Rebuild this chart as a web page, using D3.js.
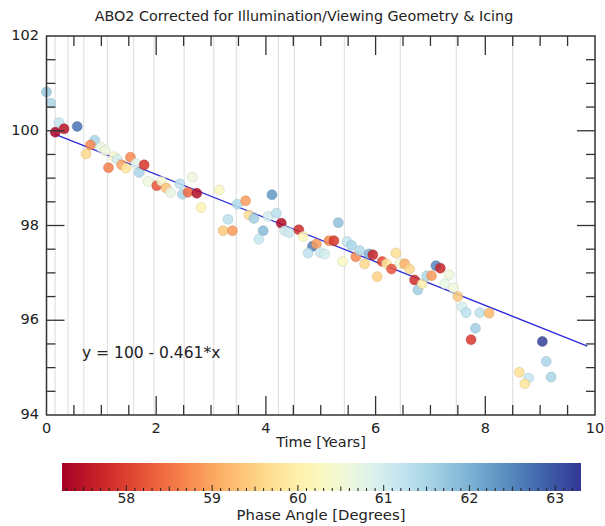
<!DOCTYPE html>
<html><head><meta charset="utf-8">
<script src="https://cdn.jsdelivr.net/npm/d3@7"></script>
<style>
html,body{margin:0;padding:0;background:#fff;}
svg{display:block;font-family:"DejaVu Sans",Verdana,sans-serif;}
</style></head>
<body><svg id="c" width="605" height="526"></svg>
<script>
const chartTitle = "ABO2 Corrected for Illumination/Viewing Geometry & Icing";
const xLabel = "Time [Years]";
const cbLabel = "Phase Angle [Degrees]";
const equation = "y = 100 - 0.461*x";
const fitIntercept = 100, fitSlope = -0.461, fitRange = [0.15, 9.86];
const xTicks = [0,2,4,6,8,10];
const yTicks = [94,96,98,100,102];
const cbTicks = [58,59,60,61,62,63];
const cbDomain = [57.25, 63.3];
const gridYears = [0.157,0.39,0.68,1.11,1.59,1.96,2.51,3.05,3.46,4.23,4.52,5.43,6.45,7.47,8.50];
const timeYears = [0.00,0.08,0.23,0.16,0.32,0.56,0.88,0.80,0.72,0.99,1.07,1.23,1.29,1.13,1.37,1.45,1.53,1.63,1.69,1.78,1.85,2.01,2.10,2.18,2.26,2.43,2.48,2.58,2.66,2.74,2.82,3.15,3.31,3.22,3.39,3.48,3.63,3.69,3.78,3.95,3.87,4.04,4.19,4.11,4.28,4.34,4.42,4.60,4.68,4.85,4.92,4.77,4.99,5.07,5.15,5.24,5.32,5.40,5.48,5.56,5.64,5.71,5.80,5.88,5.95,6.03,6.12,6.20,6.29,6.37,6.45,6.53,6.62,6.71,6.77,6.85,6.93,7.02,7.10,7.18,7.26,7.34,7.42,7.50,7.58,7.65,7.82,7.74,7.90,8.07,8.62,8.79,8.72,9.04,9.11,9.20];
const signal = [100.82,100.58,100.17,99.97,100.04,100.09,99.80,99.70,99.51,99.65,99.58,99.45,99.40,99.22,99.28,99.21,99.44,99.31,99.12,99.28,98.93,98.84,98.93,98.79,98.70,98.88,98.66,98.70,99.02,98.68,98.38,98.75,98.13,97.89,97.89,98.45,98.52,98.22,98.15,97.89,97.71,98.19,98.26,98.65,98.05,97.89,97.85,97.91,97.77,97.56,97.61,97.42,97.43,97.40,97.68,97.68,98.06,97.24,97.66,97.58,97.34,97.47,97.19,97.40,97.38,96.92,97.24,97.19,97.08,97.42,97.20,97.19,97.08,96.85,96.64,96.77,96.94,96.94,97.15,97.10,96.77,96.96,96.68,96.50,96.28,96.16,95.83,95.59,96.16,96.15,94.90,94.78,94.66,95.55,95.13,94.80];
const phaseAngle = [61.7,61.5,61.2,57.3,57.5,62.7,61.5,58.7,59.6,60.7,60.6,60.4,61.0,58.6,59.0,59.8,58.7,60.8,61.5,57.9,60.6,58.2,60.5,59.3,60.7,61.3,61.5,58.4,60.6,57.4,60.1,60.3,61.3,59.4,58.9,61.4,58.9,59.7,61.6,61.9,61.2,61.0,61.3,62.3,57.4,61.1,61.1,57.8,60.2,62.6,58.9,61.3,61.1,61.0,58.7,57.9,61.8,60.3,61.2,61.5,58.7,61.4,59.6,62.0,57.7,59.5,58.1,59.9,58.2,59.7,60.5,59.1,59.6,57.8,61.6,60.0,61.4,58.9,62.5,57.7,60.7,60.6,60.6,59.4,61.0,61.3,61.6,57.9,61.3,59.2,59.7,61.2,59.8,63.2,61.5,61.5];

const svg = d3.select("#c");
const L = 46.5, R = 595, T = 36, B = 415;
const x = d3.scaleLinear().domain([0,10]).range([L,R]);
const y = d3.scaleLinear().domain([94,102]).range([B,T]);
const col = d3.scaleSequential(d3.interpolateRdYlBu).domain(cbDomain);
const axisCol = "#333";

// title
svg.append("text").attr("x",304).attr("y",21).attr("text-anchor","middle")
  .attr("font-size",14.3).attr("fill","#222").text(chartTitle);

// grid lines
svg.append("g").selectAll("line").data(gridYears).join("line")
  .attr("x1",d=>x(d)).attr("x2",d=>x(d)).attr("y1",T).attr("y2",B)
  .attr("stroke","#dcdcdc").attr("stroke-width",1);

// fit line
svg.append("line")
  .attr("x1",x(fitRange[0])).attr("y1",y(fitIntercept+fitSlope*fitRange[0]))
  .attr("x2",x(fitRange[1])).attr("y2",y(fitIntercept+fitSlope*fitRange[1]))
  .attr("stroke","#2b2bd6").attr("stroke-width",1.3);

// points
const pts = timeYears.map((t,i)=>({t, v:signal[i], p:phaseAngle[i]}));
svg.append("g").selectAll("circle").data(pts).join("circle")
  .attr("cx",d=>x(d.t)).attr("cy",d=>y(d.v)).attr("r",5)
  .attr("fill",d=>col(d.p)).attr("fill-opacity",0.85)
  .attr("stroke",d=>d3.color(col(d.p)).darker(0.7)).attr("stroke-opacity",0.45).attr("stroke-width",0.8);

// frame
svg.append("rect").attr("x",L).attr("y",T).attr("width",R-L).attr("height",B-T)
  .attr("fill","none").attr("stroke",axisCol).attr("stroke-width",1.5);

// ticks
const xMinor = d3.range(0,10.01,0.5);
const yMinor = d3.range(94,102.01,0.5);
const tg = svg.append("g").attr("stroke",axisCol).attr("stroke-width",1.3);
xMinor.forEach(v=>{
  const major = Math.abs(v%2)<1e-6;
  const len = major?19:10;
  if (v>0 && v<10){
    tg.append("line").attr("x1",x(v)).attr("x2",x(v)).attr("y1",B).attr("y2",B-len);
    tg.append("line").attr("x1",x(v)).attr("x2",x(v)).attr("y1",T).attr("y2",T+len);
  }
});
yMinor.forEach(v=>{
  const major = Math.abs(v%2)<1e-6;
  const len = major?18:9;
  if (v>94 && v<102){
    tg.append("line").attr("x1",L).attr("x2",L+len).attr("y1",y(v)).attr("y2",y(v));
    tg.append("line").attr("x1",R).attr("x2",R-len).attr("y1",y(v)).attr("y2",y(v));
  }
});

// tick labels
svg.append("g").selectAll("text").data(xTicks).join("text")
  .attr("x",d=>x(d)).attr("y",433).attr("text-anchor","middle")
  .attr("font-size",14.5).attr("fill","#222").text(d=>d);
svg.append("g").selectAll("text").data(yTicks).join("text")
  .attr("x",39).attr("y",d=>y(d)+4).attr("text-anchor","end")
  .attr("font-size",14.5).attr("fill","#222").text(d=>d);

svg.append("text").attr("x",321).attr("y",447).attr("text-anchor","middle")
  .attr("font-size",14.5).attr("fill","#222").text(xLabel);

// equation
svg.append("text").attr("x",82).attr("y",358).attr("font-size",15.5).attr("fill","#222").text(equation);

// colorbar
const cbL = 62, cbR = 581, cbT = 463, cbB = 491;
const cx = d3.scaleLinear().domain(cbDomain).range([cbL,cbR]);
const defs = svg.append("defs");
const grad = defs.append("linearGradient").attr("id","cbg").attr("x1","0%").attr("x2","100%");
d3.range(0,1.0001,0.05).forEach(s=>{
  grad.append("stop").attr("offset",(s*100)+"%").attr("stop-color",d3.interpolateRdYlBu(s));
});
svg.append("rect").attr("x",cbL).attr("y",cbT).attr("width",cbR-cbL).attr("height",cbB-cbT).attr("fill","url(#cbg)");
const cbt = svg.append("g").attr("stroke","#222").attr("stroke-width",1);
d3.range(57.3,63.25,0.1).forEach(v=>{
  const r = Math.round(v*10)/10;
  const isInt = Math.abs(r-Math.round(r))<1e-6;
  const isHalf = Math.abs(r*2-Math.round(r*2))<1e-6;
  const len = isInt?6:(isHalf?4.5:3);
  cbt.append("line").attr("x1",cx(r)).attr("x2",cx(r)).attr("y1",cbB).attr("y2",cbB-len);
});
svg.append("g").selectAll("text").data(cbTicks).join("text")
  .attr("x",d=>cx(d)).attr("y",503).attr("text-anchor","middle")
  .attr("font-size",14).attr("fill","#222").text(d=>d);
svg.append("text").attr("x",321).attr("y",520).attr("text-anchor","middle")
  .attr("font-size",14.8).attr("fill","#222").text(cbLabel);
</script></body></html>
